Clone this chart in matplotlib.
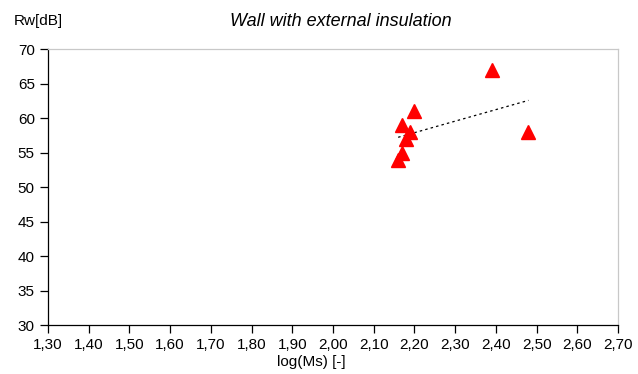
import numpy as np
import matplotlib
matplotlib.use("Agg")
import matplotlib.pyplot as plt
from matplotlib.ticker import FixedLocator, FuncFormatter

plt.rcParams['font.family'] = ['Liberation Sans', 'DejaVu Sans']

log_ms = [2.39, 2.48, 2.20, 2.17, 2.19, 2.18, 2.17, 2.16]
rw = [67, 58, 61, 59, 58, 57, 55, 54]
x_ticks = [1.30, 1.40, 1.50, 1.60, 1.70, 1.80, 1.90, 2.00, 2.10, 2.20, 2.30, 2.40, 2.50, 2.60, 2.70]
y_ticks = [30, 35, 40, 45, 50, 55, 60, 65, 70]

W, H = 638, 374
fig = plt.figure(figsize=(W / 100, H / 100), dpi=100)
ax = fig.add_axes([48 / W, 1 - 325.3 / H, (618 - 48) / W, (325.3 - 49.3) / H])

ax.plot(log_ms, rw, linestyle='none', marker='^', markersize=9.5,
        color='#FF0000', markeredgecolor='#FF0000', zorder=3)

# linear trendline
xs = np.array(log_ms)
ys = np.array(rw)
k, b = np.polyfit(xs, ys, 1)
xl = np.array([xs.min(), xs.max()])
ax.plot(xl, k * xl + b, color='black', linewidth=0.9, linestyle=(0, (2, 2.5)), zorder=2)

ax.set_xlim(1.30, 2.70)
ax.set_ylim(30, 70)
ax.xaxis.set_major_locator(FixedLocator(x_ticks))
ax.yaxis.set_major_locator(FixedLocator(y_ticks))
ax.xaxis.set_major_formatter(FuncFormatter(lambda v, p: f"{v:.2f}".replace('.', ',')))
ax.yaxis.set_major_formatter(FuncFormatter(lambda v, p: f"{v:.0f}"))
ax.tick_params(direction='out', length=5.5, width=0.9, labelsize=11, colors='black', pad=4)

for s in ['left', 'bottom']:
    ax.spines[s].set_color('black')
    ax.spines[s].set_linewidth(0.9)
for s in ['top', 'right']:
    ax.spines[s].set_color('#C8C8C8')
    ax.spines[s].set_linewidth(0.9)

fig.text(341 / W, 1 - 21 / H, 'Wall with external insulation', ha='center', va='center',
         fontsize=13, style='italic')
fig.text(14 / W, 1 - 21 / H, 'Rw[dB]', ha='left', va='center', fontsize=11)
fig.text(311 / W, 1 - 362 / H, 'log(Ms) [-]', ha='center', va='center', fontsize=11)

fig.savefig('out.png', dpi=100)
